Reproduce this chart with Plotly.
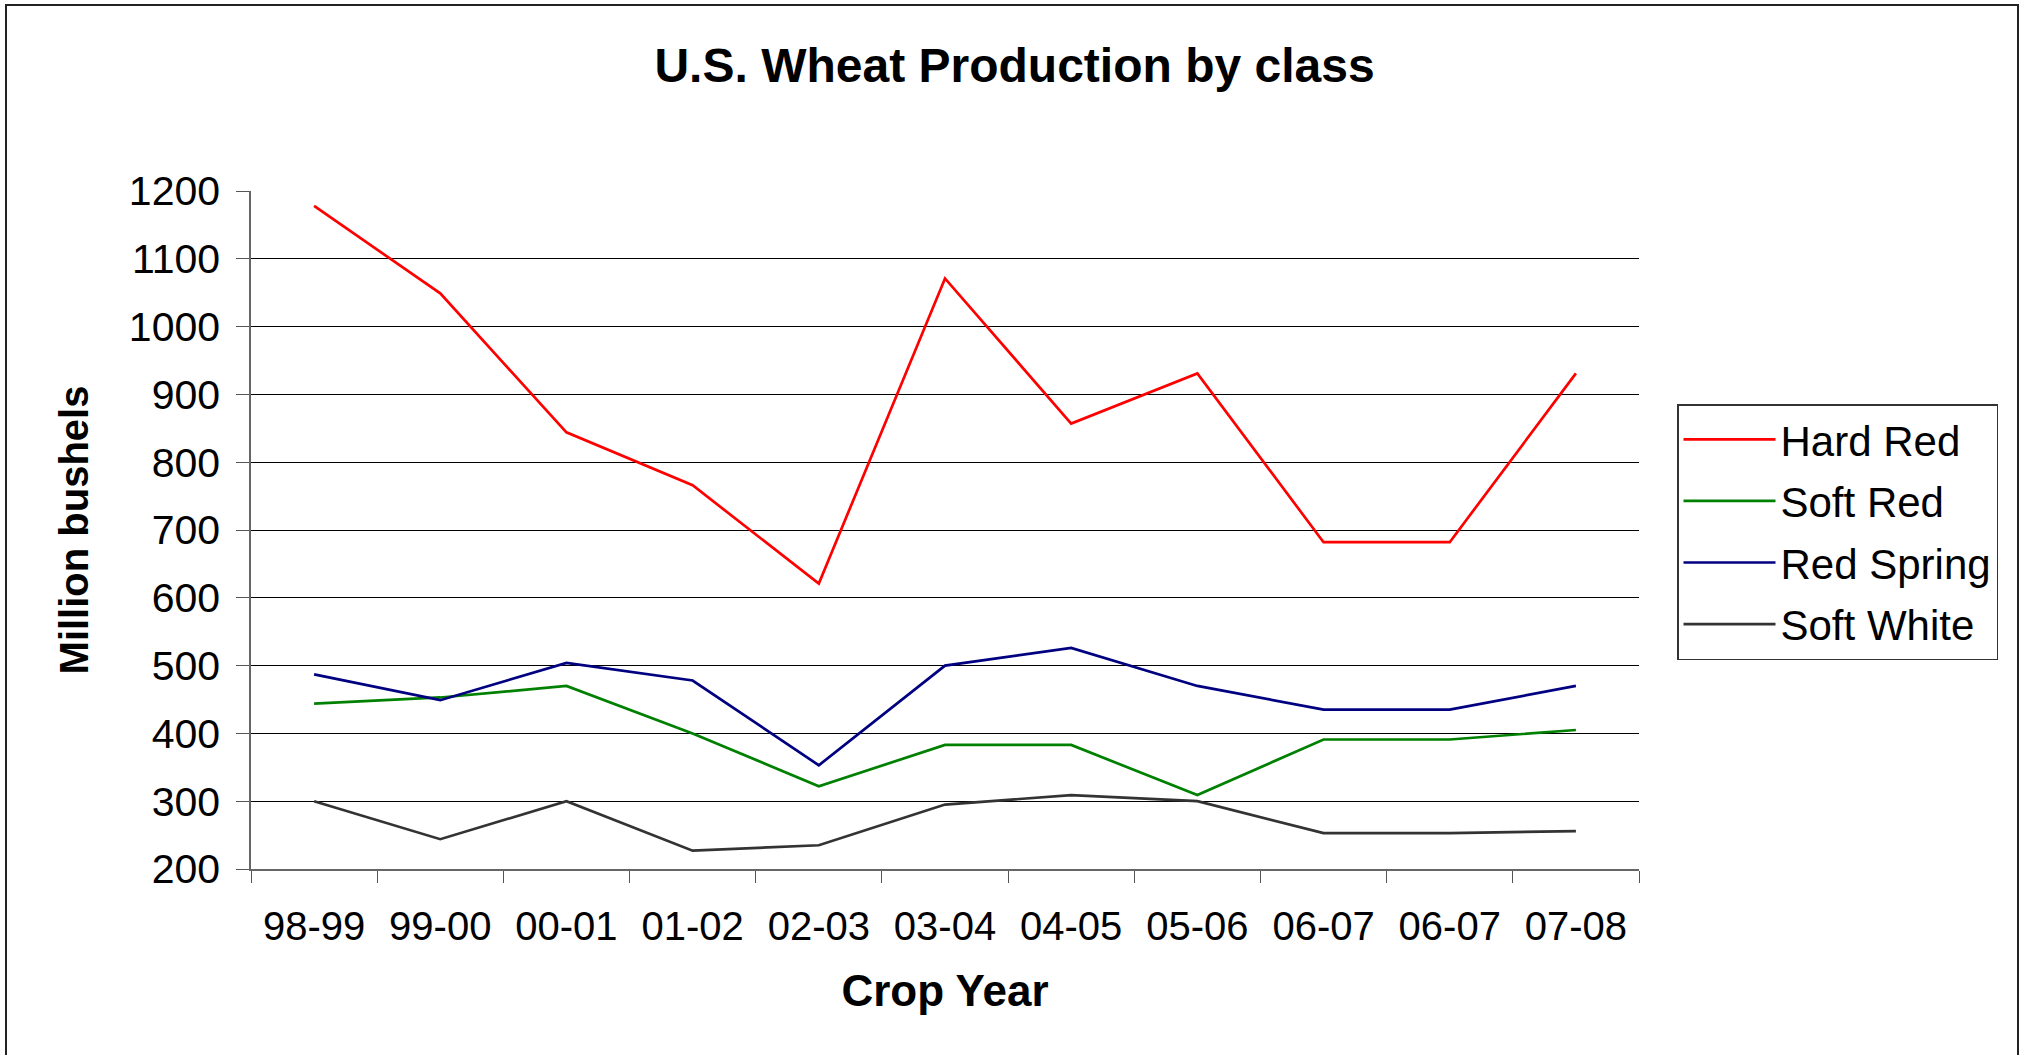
import plotly.graph_objects as go

crop_years = ["98-99", "99-00", "00-01", "01-02", "02-03", "03-04", "04-05", "05-06", "06-07", "06-07", "07-08"]
hard_red = [1178, 1049, 844, 766, 621, 1071, 857, 931, 682, 682, 931]
soft_red = [444, 453, 470, 400, 322, 383, 383, 309, 391, 391, 405]
red_spring = [487, 449, 504, 478, 353, 500, 526, 470, 435, 435, 470]
soft_white = [300, 244, 300, 227, 235, 295, 309, 300, 253, 253, 256]

series = [
    ("Hard Red", hard_red, "#FF0000"),
    ("Soft Red", soft_red, "#008000"),
    ("Red Spring", red_spring, "#000080"),
    ("Soft White", soft_white, "#333333"),
]

xpos = list(range(len(crop_years)))
FONT = "Liberation Sans, Arial, sans-serif"

L, R, T, B = 251, 384, 191, 186
W, H = 2023, 1055
PW, PH = W - L - R, H - T - B


def px(x):
    return (x - L) / PW


def py(y):
    return (H - B - y) / PH


fig = go.Figure()
for i, (name, vals, col) in enumerate(series):
    fig.add_trace(go.Scatter(
        x=xpos, y=vals, name=name, mode="lines",
        line=dict(color=col, width=2.7),
        legendgroup=f"g{i}",
    ))

fig.update_layout(
    width=W, height=H,
    paper_bgcolor="white", plot_bgcolor="white",
    margin=dict(l=L, r=R, t=T, b=B, autoexpand=False),
    font=dict(family=FONT, color="black"),
    title=dict(text="<b>U.S. Wheat Production by class</b>", x=0.5015, xanchor="center",
               y=1 - 65 / H, yanchor="middle",
               font=dict(family=FONT, size=48, color="black")),
    showlegend=True,
    legend=dict(
        x=px(1677), y=py(404), xanchor="left", yanchor="top",
        bordercolor="#333333", borderwidth=1.5, bgcolor="white",
        font=dict(family=FONT, size=42, color="black"),
        tracegroupgap=4, itemwidth=92,
    ),
    shapes=[dict(type="rect", xref="paper", yref="paper",
                 x0=px(6), x1=px(2018), y0=py(1075), y1=py(5),
                 line=dict(color="#222222", width=2), fillcolor="rgba(0,0,0,0)", layer="below")],
)

fig.update_xaxes(
    range=[-0.5, len(crop_years) - 0.5],
    tickmode="array", tickvals=xpos, ticktext=crop_years,
    ticks="", ticklabelstandoff=21,
    tickfont=dict(family=FONT, size=40, color="black"),
    showgrid=False, zeroline=False,
    showline=True, linecolor="#666666", linewidth=1.5,
    minor=dict(tick0=-0.5, dtick=1, ticks="outside", ticklen=12, tickcolor="#555555", tickwidth=1.2, showgrid=False),
    title=dict(text="<b>Crop Year</b>", font=dict(family=FONT, size=44, color="black"), standoff=28),
)
fig.update_yaxes(
    range=[200, 1200], dtick=100, tick0=200,
    ticks="outside", ticklen=13, tickcolor="#555555", tickwidth=1.2, ticklabelstandoff=8,
    tickfont=dict(family=FONT, size=41, color="black"),
    showgrid=True, gridcolor="#000000", gridwidth=1,
    zeroline=False, showline=True, linecolor="#666666", linewidth=1.5,
    title=dict(text="<b>Million bushels</b>", font=dict(family=FONT, size=40, color="black"), standoff=28),
)

fig.write_html("out.html", config={"displayModeBar": False},
               post_script="document.body.style.margin='0';")
